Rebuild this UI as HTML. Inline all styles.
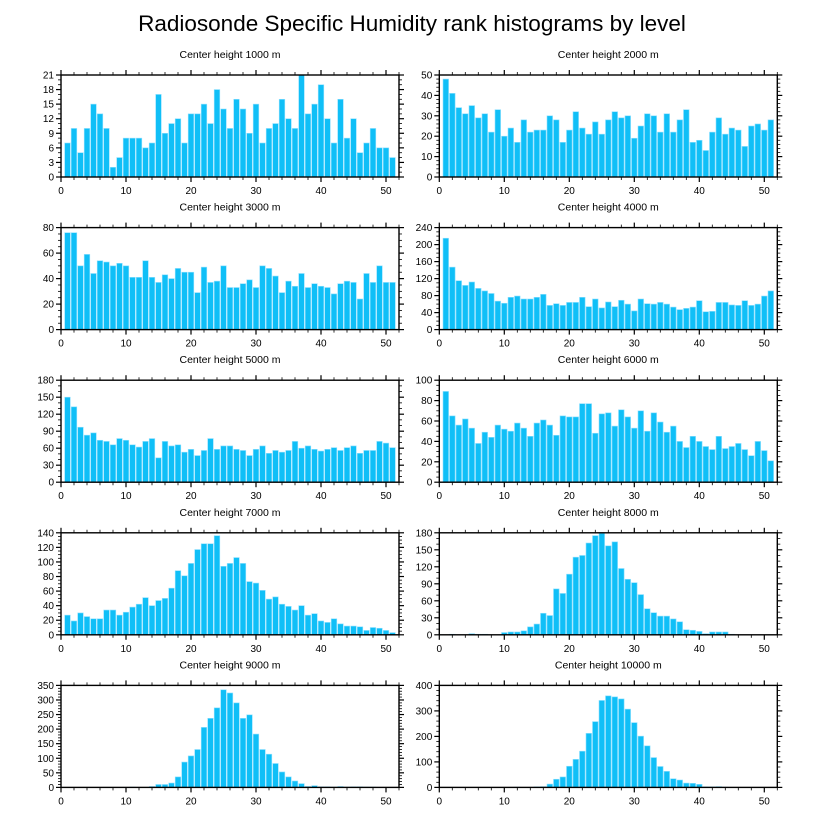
<!DOCTYPE html>
<html><head><meta charset="utf-8">
<style>
html,body{margin:0;padding:0;background:#fff;}
svg{display:block;font-family:"Liberation Sans",sans-serif;}
</style></head>
<body>
<svg id="chart" width="816" height="824" viewBox="0 0 816 824" xmlns="http://www.w3.org/2000/svg">
<text x="412" y="31" text-anchor="middle" font-size="22.5">Radiosonde Specific Humidity rank histograms by level</text>
</svg>
<script>
const titles = ["Center height 1000 m","Center height 2000 m","Center height 3000 m","Center height 4000 m","Center height 5000 m","Center height 6000 m","Center height 7000 m","Center height 8000 m","Center height 9000 m","Center height 10000 m"];
const xTicks = [0,10,20,30,40,50];
const yMax = [21,50,80,240,180,100,140,180,350,400];
const yStep = [3,10,20,40,30,20,20,30,50,100];
const yMinor = [1,2,5,10,10,5,5,10,10,20];
const h1000 = [7,10,5,10,15,13,10,2,4,8,8,8,6,7,17,9,11,12,7,13,13,15,11,18,14,10,16,14,9,15,7,10,11,16,12,10,21,13,15,19,12,7,16,8,12,5,7,10,6,6,4];
const h2000 = [48,41,34,31,35,29,31,22,33,20,24,17,28,22,23,23,30,28,17,23,32,24,21,27,21,28,32,29,30,19,25,31,30,22,31,22,28,33,17,18,13,22,29,21,24,23,15,25,26,23,28];
const h3000 = [76,76,50,59,44,54,53,50,52,50,41,41,54,41,37,43,40,48,45,45,29,49,37,38,50,33,33,36,39,33,50,48,42,29,38,34,44,33,36,34,33,28,36,38,37,24,44,37,50,37,37];
const h4000 = [215,147,115,104,112,97,91,85,67,62,76,79,72,72,76,83,57,61,57,64,64,76,54,72,51,65,54,69,60,44,72,61,60,64,60,53,47,50,53,68,42,43,64,64,58,57,68,57,60,79,91];
const h5000 = [150,133,97,83,87,74,72,66,77,74,66,62,72,77,43,72,64,66,53,58,47,56,77,58,64,64,58,56,47,58,64,51,56,53,56,72,60,64,58,55,58,61,56,61,64,51,56,56,72,69,61];
const h6000 = [89,65,56,62,53,38,49,44,56,52,50,58,53,45,58,61,56,46,65,64,64,77,77,48,67,68,55,71,64,53,70,50,68,59,49,55,40,34,45,40,35,32,45,33,35,38,32,26,40,31,21];
const h7000 = [27,19,30,25,22,22,34,34,27,31,38,42,51,40,47,50,64,88,81,98,117,125,125,136,94,98,106,98,73,71,61,49,52,42,39,34,40,27,29,19,17,22,15,12,12,11,6,10,9,6,3];
const h8000 = [0,1,0,0,2,1,1,0,0,4,5,5,7,14,19,38,34,81,73,107,137,140,162,175,179,157,164,117,98,92,71,46,39,33,33,28,23,9,8,6,2,5,5,5,1,0,0,0,0,0,0];
const h9000 = [0,0,0,0,0,0,0,0,0,0,1,0,0,3,10,10,15,36,87,108,130,206,237,273,335,324,290,237,249,183,130,114,82,53,36,22,13,3,6,2,2,1,3,1,2,2,1,1,0,0,0];
const h10000 = [0,0,0,0,0,0,0,0,0,0,0,1,0,0,2,3,13,32,41,83,110,142,212,258,341,359,355,347,307,254,201,163,117,82,63,34,29,17,16,12,2,2,3,1,0,0,0,0,0,0,0];
const series = [h1000,h2000,h3000,h4000,h5000,h6000,h7000,h8000,h9000,h10000];

const NS="http://www.w3.org/2000/svg";
const svg=document.getElementById('chart');
function mk(tag,attrs,parent){const e=document.createElementNS(NS,tag);for(const k in attrs)e.setAttribute(k,attrs[k]);(parent||svg).appendChild(e);return e;}

const X0=[61,439.3], PW=338, PH=102, XMAX=52;
for(let p=0;p<10;p++){
  const col=p%2,row=Math.floor(p/2);
  const left=X0[col], top=75+152.6*row, bottom=top+PH, right=left+PW;
  const xs=v=>left+v/XMAX*PW;
  const ys=v=>bottom-v/yMax[p]*PH;
  const g=mk('g',{});
  
  
  const t=mk('text',{x:(left+right)/2,y:top-17,'text-anchor':'middle','font-size':'10.5'},g);
  t.textContent=titles[p];
  
  
  const bw=0.86*PW/XMAX;
  series[p].forEach((v,i)=>{
    const x=xs(i+1);
    const r=mk('rect',{x:x-bw/2,y:ys(v),width:bw,height:Math.max(0,bottom-ys(v)),fill:'#10bff7',stroke:'#8fe0ff','stroke-width':'0.6'},g);
    
    
  });
  for(let v=0;v<=XMAX;v+=2){
    const maj=v%10===0, L=maj?5:3, x=xs(v);
    mk('line',{x1:x,x2:x,y1:bottom,y2:bottom+L,stroke:'#000','stroke-width':maj?1.2:0.8},g);
    mk('line',{x1:x,x2:x,y1:top,y2:top-L,stroke:'#000','stroke-width':maj?1.2:0.8},g);
  }
  xTicks.forEach(v=>{
    const tl=mk('text',{x:xs(v),y:bottom+17,'text-anchor':'middle','font-size':'10'},g);
    tl.textContent=v;
    
    
  });
  for(let v=0;v<=yMax[p]+1e-9;v+=yMinor[p]){
    const maj=Math.abs(v/yStep[p]-Math.round(v/yStep[p]))<1e-6, L=maj?5:3, y=ys(v);
    mk('line',{x1:left,x2:left-L,y1:y,y2:y,stroke:'#000','stroke-width':maj?1.2:0.8},g);
    mk('line',{x1:right,x2:right+L,y1:y,y2:y,stroke:'#000','stroke-width':maj?1.2:0.8},g);
  }
  for(let v=0;v<=yMax[p];v+=yStep[p]){
    const tl=mk('text',{x:left-7,y:ys(v)+3.5,'text-anchor':'end','font-size':'10'},g);
    tl.textContent=v;
    
    
  }
  const box=mk('rect',{x:left,y:top,width:PW,height:PH,fill:'none',stroke:'#000','stroke-width':'1.4'},g);
  
  
}
</script>
</body></html>
